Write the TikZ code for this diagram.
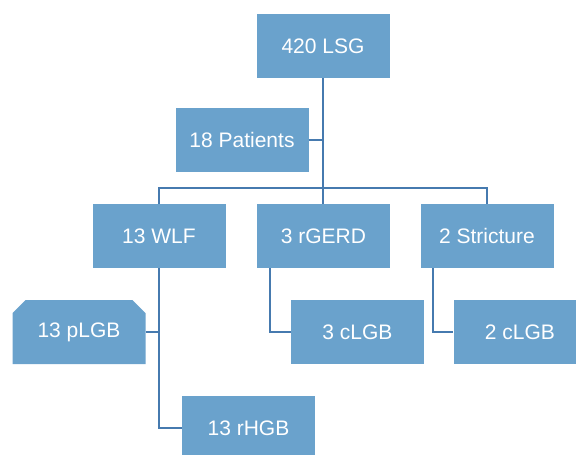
\documentclass[tikz,border=0pt]{standalone}
\usepackage{fontspec}
\setmainfont{Liberation Sans}
\usetikzlibrary{shapes.misc}
\definecolor{boxblue}{RGB}{106,162,204}
\definecolor{lineblue}{RGB}{70,122,175}

\begin{document}
\begin{tikzpicture}[x=1pt, y=-1pt, every node/.style={rectangle, fill=boxblue, text=white, minimum width=133pt, minimum height=64pt, inner sep=0pt, font=\fontsize{21}{25}\selectfont}, link/.style={draw=lineblue, line width=1.5pt}]
  \clip (0,0) rectangle (576,455);
  \node (1) at (323,46) {420 LSG};
  \node (2) at (242,140) {18 Patients};
  \node (3) at (159,236) {13 WLF};
  \node (4) at (323.5,236) {3 rGERD};
  \node (5) at (487,236) {2 Stricture};
  \node[chamfered rectangle, chamfered rectangle corners={north west, north east}, chamfered rectangle xsep=11pt] (6) at (79,332) {13 pLGB};
  \node (7) at (248.5,428) {13 rHGB};
  \node (8) at (357.5,332) {3 cLGB};
  \node (9) at (520,332) {2 cLGB};
  \draw[link] (1.south) -- (1.south |- 4.north);
  \draw[link] (2.east) -- (2.east -| 1.south);
  \draw[link] (3.north) -- ++(0,-16) -| (5.north);
  \draw[link] ([xshift=-53.5pt]4.south) |- (8.west);
  \draw[link] ([xshift=-54pt]5.south) |- (9.west);
  \draw[link] (3.south) |- (7.west);
  \draw[link] (6.east) -- (6.east -| 3.south);
\end{tikzpicture}
\end{document}
